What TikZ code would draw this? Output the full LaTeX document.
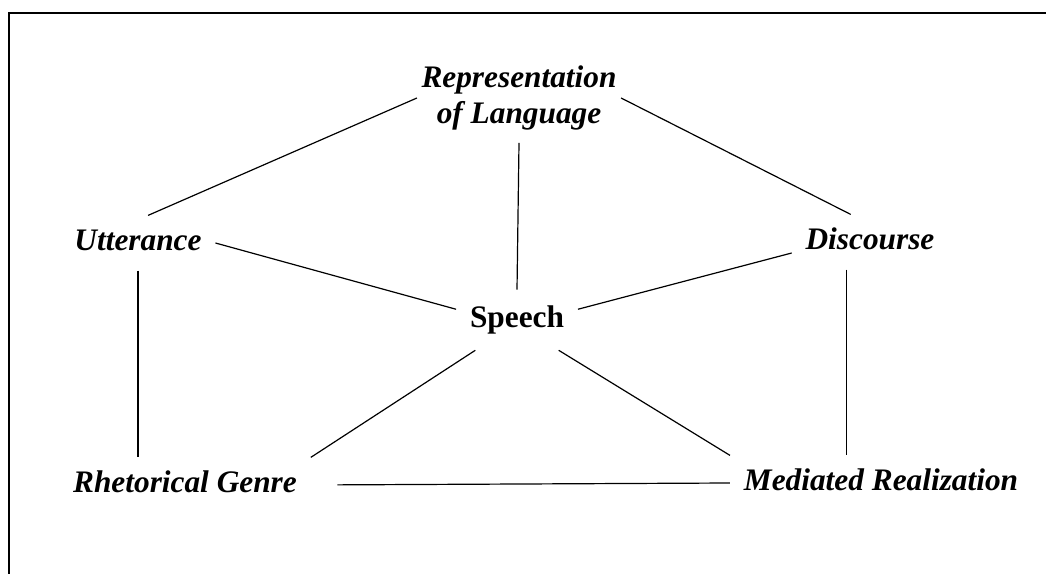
\documentclass[tikz,border=0pt]{standalone}
\usepackage{fontspec}
\setmainfont{Liberation Serif}
\begin{document}
\begin{tikzpicture}[x=0.75pt, y=-0.75pt, line width=0.9pt,
    every node/.style={font=\fontsize{23.5}{27}\selectfont\bfseries},
    concept/.style={font=\fontsize{23.5}{27}\selectfont\bfseries\itshape,
        text height=16.5pt, text depth=6pt, inner xsep=10pt, inner ysep=9pt},
    hub/.style={text height=16.5pt, text depth=6pt, inner xsep=10pt, inner ysep=11pt}]
    \useasboundingbox (0,0) rectangle (1046,574);
    \draw[line width=1.3pt] (9,574) -- (9,13) -- (1046,13);
    \node[concept, align=center, inner xsep=3pt, text height=, text depth=] (rep) at (519,98) {Representation\\of Language};
    \node[concept] (utt)  at (138,243) {Utterance};
    \node[concept] (disc) at (870,242) {Discourse};
    \node[hub]     (sp)   at (517,320) {Speech};
    \node[concept] (rhet) at (185,485) {Rhetorical Genre};
    \node[concept] (med)  at (881,483) {Mediated Realization};
    \draw (rep.west) -- (utt.70);
    \draw (rep.east) -- (disc.125);
    \draw (rep.south) -- (sp.north);
    \draw (utt.east) -- (sp.170);
    \draw (disc.188) -- (sp.10);
    \draw (utt.south) -- (utt.south |- rhet.north);
    \draw (disc.230) -- (disc.230 |- med.north);
    \draw (sp.216) -- (rhet.north east);
    \draw (sp.324) -- (med.north west);
    \draw[shorten <=20pt] (rhet.east) -- (med.west);
\end{tikzpicture}
\end{document}
